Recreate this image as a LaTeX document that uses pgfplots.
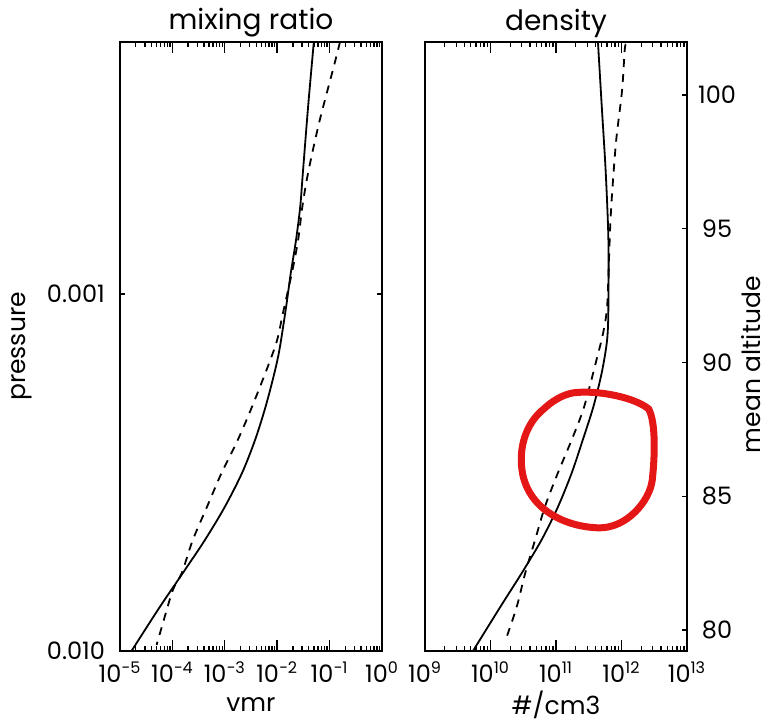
\documentclass[border=0pt]{standalone}
\usepackage{fontspec}
\setmainfont{Poppins}
\usepackage{pgfplots}
\pgfplotsset{compat=1.18}
\definecolor{redmark}{RGB}{228,22,22}
\newcommand\lab{\fontsize{12}{14}\selectfont}
\newcommand\axl{\fontsize{12.5}{15}\selectfont}

\begin{document}
\begin{tikzpicture}
\path[use as bounding box] (-60pt,-35.5pt) rectangle (324pt,325.5pt);

% mixing ratio
\begin{axis}[at={(0pt,0pt)},
  scale only axis, width=131pt, height=304.5pt,
  xmode=log, ymode=log, y dir=reverse,
  ymin=1.97e-4, ymax=0.01,
  tick align=inside, major tick length=5.5pt, minor tick length=2.5pt,
  axis line style={line width=1.2pt},
  tick style={black, line width=0.7pt},
  tick label style={font=\lab},
  xticklabel style={yshift=-2pt},
  yticklabel style={xshift=-4pt},
  title style={font=\fontsize{14}{16}\selectfont, at={(axis description cs:0.5,1)}, anchor=center, yshift=3.5pt},
  xlabel style={font=\axl, at={(axis description cs:0.5,0)}, anchor=center, yshift=-27pt},
  ylabel style={font=\axl, at={(axis description cs:-0.375,0.5)}, anchor=center},
  title={mixing ratio}, xlabel={vmr}, ylabel={pressure},
  xmin=1e-5, xmax=1,
  xtick={1e-5,1e-4,1e-3,1e-2,1e-1,1},
  xticklabels={10\textsuperscript{−5},10\textsuperscript{−4},10\textsuperscript{−3},10\textsuperscript{−2},10\textsuperscript{−1},10\textsuperscript{0}},
  minor xtick={2e-5,3e-5,4e-5,5e-5,6e-5,7e-5,8e-5,9e-5,2e-4,3e-4,4e-4,5e-4,6e-4,7e-4,8e-4,9e-4,2e-3,3e-3,4e-3,5e-3,6e-3,7e-3,8e-3,9e-3,2e-2,3e-2,4e-2,5e-2,6e-2,7e-2,8e-2,9e-2,2e-1,3e-1,4e-1,5e-1,6e-1,7e-1,8e-1,9e-1},
  ytick=\empty,
  extra y ticks={0.001,0.01}, extra y tick labels={0.001,0.010},
  extra y tick style={major tick length=2.5pt},
  minor ytick={2e-4,3e-4,4e-4,5e-4,6e-4,7e-4,8e-4,9e-4,2e-3,3e-3,4e-3,5e-3,6e-3,7e-3,8e-3,9e-3},
]
\addplot[black, line width=0.9pt, smooth, tension=0.5] coordinates {
(5.0e-2,1.97e-4) (3.89e-2,2.99e-4) (3.09e-2,4.58e-4) (2.75e-2,5.70e-4)
(2.29e-2,7.06e-4) (1.82e-2,8.73e-4) (1.48e-2,1.087e-3) (1.12e-2,1.416e-3)
(8.9e-3,1.66e-3) (6.0e-3,2.07e-3) (3.8e-3,2.56e-3) (2.14e-3,3.17e-3)
(1.0e-3,3.95e-3) (4.17e-4,4.89e-3) (1.58e-4,6.05e-3) (5.75e-5,7.53e-3)
(1.66e-5,1.0e-2)};
\addplot[black, line width=0.9pt, dash pattern=on 4pt off 3.5pt, smooth, tension=0.5] coordinates {
(0.158,1.97e-4) (0.120,2.31e-4) (6.3e-2,3.32e-4) (3.89e-2,4.58e-4)
(3.02e-2,5.70e-4) (2.51e-2,7.06e-4) (1.91e-2,8.73e-4) (1.29e-2,1.13e-3)
(1.0e-2,1.345e-3) (6.6e-3,1.60e-3) (3.31e-3,2.07e-3) (1.78e-3,2.56e-3)
(8.7e-4,3.17e-3) (4.57e-4,3.95e-3) (2.45e-4,4.89e-3) (1.51e-4,6.05e-3)
(1.02e-4,6.75e-3) (6.6e-5,8.35e-3) (5.0e-5,9.62e-3)};
\end{axis}

% density
\begin{axis}[at={(152.5pt,0pt)},
  scale only axis, width=131pt, height=304.5pt,
  xmode=log, ymode=log, y dir=reverse,
  ymin=1.97e-4, ymax=0.01,
  tick align=inside, major tick length=5.5pt, minor tick length=2.5pt,
  axis line style={line width=1.2pt},
  tick style={black, line width=0.7pt},
  tick label style={font=\lab},
  xticklabel style={yshift=-2pt},
  title style={font=\fontsize{14}{16}\selectfont, at={(axis description cs:0.5,1)}, anchor=center, yshift=3.5pt},
  xlabel style={font=\axl, at={(axis description cs:0.5,0)}, anchor=center, yshift=-27pt},
  title={density}, xlabel={\#/cm3},
  xmin=1e9, xmax=1e13,
  xtick={1e9,1e10,1e11,1e12,1e13},
  xticklabels={10\textsuperscript{9},10\textsuperscript{10},10\textsuperscript{11},10\textsuperscript{12},10\textsuperscript{13}},
  minor xtick={2e9,3e9,4e9,5e9,6e9,7e9,8e9,9e9,2e10,3e10,4e10,5e10,6e10,7e10,8e10,9e10,2e11,3e11,4e11,5e11,6e11,7e11,8e11,9e11,2e12,3e12,4e12,5e12,6e12,7e12,8e12,9e12},
  ytick=\empty, ytick pos=left,
  minor ytick={2e-4,3e-4,4e-4,5e-4,6e-4,7e-4,8e-4,9e-4,1e-3,2e-3,3e-3,4e-3,5e-3,6e-3,7e-3,8e-3,9e-3},
]
\addplot[black, line width=0.9pt, smooth, tension=0.5] coordinates {
(4.37e11,1.97e-4) (5.0e11,2.99e-4) (5.75e11,4.58e-4) (6.31e11,7.06e-4)
(6.31e11,1.087e-3) (6.03e11,1.345e-3) (5.0e11,1.66e-3) (3.72e11,2.07e-3)
(2.57e11,2.56e-3) (1.74e11,3.17e-3) (1.07e11,3.95e-3) (6.0e10,4.89e-3)
(3.0e10,6.05e-3) (1.41e10,7.53e-3) (5.4e9,1.0e-2)};
\addplot[black, line width=0.9pt, dash pattern=on 4pt off 3.5pt, smooth, tension=0.5] coordinates {
(1.17e12,2.0e-4) (1.12e12,2.07e-4) (1.02e12,2.69e-4) (8.3e11,3.71e-4)
(7.24e11,5.12e-4) (6.76e11,6.33e-4) (6.46e11,7.87e-4) (6.03e11,1.087e-3)
(5.25e11,1.285e-3) (4.27e11,1.50e-3) (2.69e11,2.07e-3) (1.74e11,2.56e-3)
(1.07e11,3.17e-3) (6.76e10,3.95e-3) (4.79e10,4.89e-3) (3.39e10,6.05e-3)
(2.51e10,7.53e-3) (1.66e10,9.44e-3)};
\draw[redmark, line width=3.5pt] (axis cs:1.95e11,1.89e-3)
  .. controls (axis cs:4.5e11,1.86e-3) and (axis cs:1.6e12,1.95e-3) .. (axis cs:2.6e12,2.1e-3)
  .. controls (axis cs:3.4e12,2.3e-3) and (axis cs:3.2e12,2.9e-3) .. (axis cs:2.95e12,3.32e-3)
  .. controls (axis cs:2.7e12,3.8e-3) and (axis cs:1.2e12,4.55e-3) .. (axis cs:4.37e11,4.52e-3)
  .. controls (axis cs:1.3e11,4.48e-3) and (axis cs:4.0e10,4.0e-3) .. (axis cs:3.1e10,3.2e-3)
  .. controls (axis cs:2.6e10,2.7e-3) and (axis cs:3.5e10,2.3e-3) .. (axis cs:6.5e10,2.1e-3)
  .. controls (axis cs:1.0e11,1.95e-3) and (axis cs:1.5e11,1.9e-3) .. cycle;
\end{axis}

% altitude scale
\begin{axis}[at={(152.5pt,0pt)},
  scale only axis, width=131pt, height=304.5pt,
  axis x line=none, axis y line*=right,
  ymin=79.22, ymax=101.98, xmin=0, xmax=1,
  ytick={80,85,90,95,100}, yticklabels={80,85,90,95,100}, minor ytick={},
  tick align=inside, major tick length=2.5pt,
  axis line style={line width=1.2pt},
  tick style={black, line width=0.7pt},
  tick label style={font=\lab},
  yticklabel style={anchor=center, xshift=15pt},
  ylabel={mean altitude},
  ylabel style={font=\axl, at={(axis description cs:1.245,0.47)}, anchor=center},
]
\end{axis}
\end{tikzpicture}
\end{document}
